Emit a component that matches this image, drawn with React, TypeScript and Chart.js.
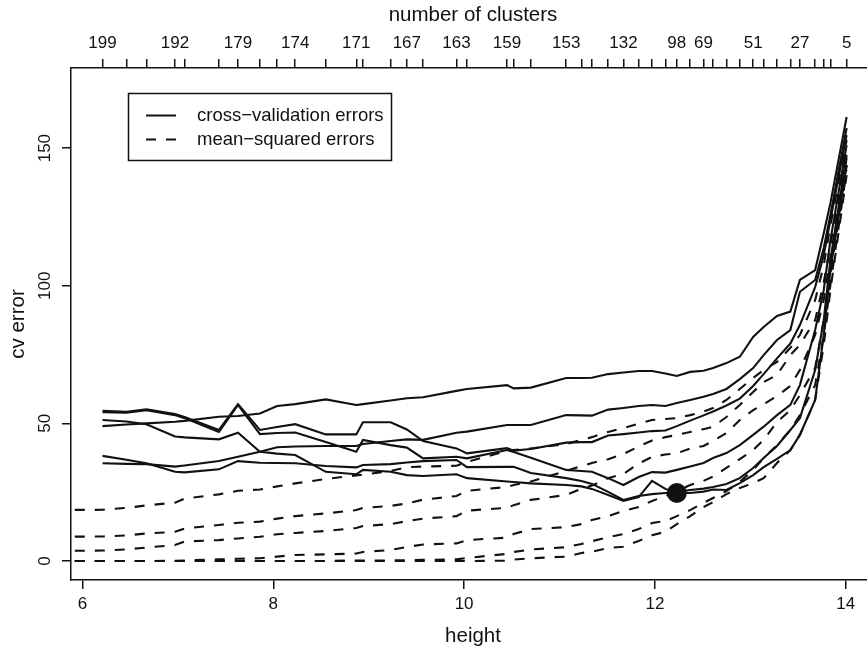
import React, { useEffect, useRef } from "react";
import { Chart, registerables } from "chart.js";

Chart.register(...registerables);

// ---- data -------------------------------------------------------------
// heights at which the tree was cut (one per tick on the top axis)
const heights = [
  6.21, 6.46, 6.67, 6.97, 7.07, 7.43, 7.63, 7.86, 8.04, 8.23,
  8.55, 8.87, 8.94, 9.23, 9.40, 9.57, 9.92, 10.03, 10.45, 10.52,
  10.70, 11.07, 11.23, 11.34, 11.51, 11.67, 11.83, 11.97, 12.11, 12.23,
  12.37, 12.51, 12.61, 12.75, 12.89, 13.03, 13.14, 13.28, 13.42, 13.52,
  13.68, 13.77, 13.84, 14.01,
];

// number-of-clusters labels shown on the top axis ("" = tick without label)
const clusterLabels = [
  "199", "", "", "192", "", "", "179", "", "", "174",
  "", "171", "", "", "167", "", "163", "", "159", "",
  "", "153", "", "", "", "132", "", "", "", "98",
  "", "69", "", "", "", "51", "", "", "", "27",
  "", "", "", "5",
];

const xTickValues = [6, 8, 10, 12, 14];
const yTickValues = [0, 50, 100, 150];

// cross-validation errors (solid lines)
const cvErrorsA = [
  49.0, 49.6, 50.0, 50.6, 50.9, 52.4, 52.7, 53.6, 56.3, 57.0,
  58.7, 56.7, 57.0, 58.3, 59.1, 59.5, 61.8, 62.5, 63.9, 62.7,
  63.0, 66.5, 66.5, 66.6, 67.9, 68.5, 69.0, 69.0, 68.1, 67.2,
  68.7, 69.1, 70.1, 71.9, 74.2, 81.4, 85.0, 89.0, 90.6, 102.1,
  105.7, 119.1, 130.0, 161.3,
];
const cvErrorsB = [
  54.6, 54.2, 55.1, 53.4, 52.3, 47.6, 57.0, 47.6, 48.7, 49.7,
  46.0, 46.0, 50.4, 50.4, 47.8, 43.6, 40.9, 39.1, 41.0, 40.1,
  40.7, 43.0, 43.2, 43.2, 45.6, 46.1, 46.7, 47.2, 47.4, 49.0,
  51.0, 52.9, 54.3, 56.5, 59.0, 63.6, 67.9, 73.6, 79.0, 85.7,
  99.5, 111.2, 123.9, 154.7,
];
const cvErrorsC = [
  54.1, 53.9, 54.8, 53.0, 51.9, 46.9, 56.7, 46.1, 46.5, 46.7,
  43.2, 39.7, 44.0, 42.1, 41.2, 37.3, 37.9, 37.3, 40.3, 39.6,
  37.5, 33.1, 32.7, 32.4, 30.1, 27.6, 30.5, 32.3, 32.1, 33.1,
  34.3, 35.6, 37.4, 39.2, 42.1, 45.8, 48.8, 53.0, 56.7, 63.9,
  83.9, 98.4, 116.6, 151.1,
];
const cvErrorsD = [
  51.2, 50.7, 49.7, 45.2, 44.9, 44.2, 46.6, 39.7, 39.0, 38.5,
  32.4, 31.5, 33.1, 32.4, 31.2, 30.9, 31.5, 30.1, 28.9, 28.7,
  28.2, 27.6, 27.1, 26.2, 24.0, 21.8, 23.2, 29.1, 26.2, 24.7,
  24.7, 25.2, 26.0, 25.8, 28.3, 31.2, 34.1, 37.1, 40.3, 45.8,
  58.5, 82.1, 105.7, 143.8,
];
const cvErrorsE = [
  38.2, 36.8, 35.5, 32.4, 32.2, 33.3, 36.3, 35.7, 35.6, 35.5,
  34.5, 34.0, 34.9, 35.2, 35.8, 36.3, 36.7, 34.1, 34.2, 34.2,
  32.0, 30.1, 29.1, 28.0, 25.1, 22.2, 23.6, 24.3, 24.7, 25.1,
  25.8, 26.3, 26.9, 28.0, 30.1, 33.8, 37.4, 41.8, 47.6, 51.9,
  69.4, 87.5, 109.3, 147.5,
];
const cvErrorsF = [
  35.5, 35.3, 35.2, 34.3, 34.7, 36.3, 37.9, 39.7, 41.3, 41.6,
  41.8, 41.8, 42.5, 43.6, 44.2, 44.0, 46.6, 47.0, 49.4, 49.4,
  49.4, 53.0, 52.9, 52.8, 55.0, 55.6, 56.3, 56.7, 56.3, 57.4,
  58.5, 59.7, 60.7, 62.5, 66.1, 70.1, 74.8, 80.3, 83.9, 97.8,
  102.1, 113.7, 125.7, 157.3,
];

// mean-squared errors (dashed lines); they begin left of the plotted range
const mseLeadHeight = 5.5;
const mseA = [
  18.5, 18.6, 19.3, 20.2, 21.2, 22.7, 24.2, 25.5, 26.0, 27.1,
  28.2, 29.8, 31.1, 31.4, 32.7, 34.1, 34.3, 34.6, 36.0, 40.0,
  40.3, 40.9, 42.5, 44.0, 45.0, 46.9, 48.3, 49.9, 51.2, 51.6,
  51.9, 53.0, 54.3, 55.6, 58.5, 62.5, 66.5, 69.4, 72.3, 77.4,
  82.1, 94.8, 107.5, 122.0, 152.9,
];
const mseB = [
  8.8, 8.9, 9.3, 10.0, 10.6, 11.8, 13.1, 13.9, 14.3, 15.4,
  16.3, 17.3, 18.5, 19.3, 20.0, 20.9, 22.3, 23.6, 25.5, 26.9,
  27.6, 28.9, 32.7, 34.5, 35.6, 37.0, 38.9, 41.6, 43.8, 45.0,
  45.8, 46.9, 47.9, 48.8, 52.3, 56.7, 61.4, 65.0, 67.6, 74.8,
  78.5, 87.5, 101.3, 114.8, 149.3,
];
const mseC = [
  3.6, 3.8, 4.2, 4.9, 5.8, 7.1, 7.6, 8.2, 8.8, 9.7,
  10.2, 10.9, 12.0, 12.7, 13.4, 14.5, 15.4, 16.3, 18.3, 19.3,
  20.3, 22.2, 24.0, 26.2, 27.4, 30.1, 31.6, 35.4, 37.8, 38.7,
  39.1, 40.9, 41.8, 43.6, 46.5, 51.2, 54.8, 57.0, 59.9, 63.6,
  69.4, 82.1, 94.8, 110.1, 146.4,
];
const mseD = [
  0, 0, 0, 0, 0.1, 0.2, 0.6, 0.8, 1.0, 1.6,
  2.2, 2.4, 2.7, 3.3, 4.0, 5.1, 6.0, 6.4, 7.6, 8.5,
  9.8, 11.6, 12.3, 13.4, 14.9, 16.3, 18.2, 19.6, 21.8, 23.6,
  25.4, 27.6, 29.1, 30.7, 33.8, 37.0, 40.3, 44.0, 50.5, 54.8,
  60.3, 70.1, 87.5, 103.9, 143.8,
];
const mseE = [
  0, 0, 0, 0, 0, 0, 0, 0, 0, 0,
  0, 0, 0.2, 0.2, 0.2, 0.3, 0.4, 0.6, 1.1, 2.6,
  3.3, 4.2, 5.0, 6.2, 7.2, 8.6, 9.8, 11.6, 13.8, 14.5,
  16.3, 18.5, 21.1, 22.9, 25.4, 28.7, 33.1, 37.4, 42.1, 47.6,
  53.0, 63.9, 82.1, 100.3, 142.0,
];
const mseF = [
  0, 0, 0, 0, 0, 0, 0, 0, 0, 0,
  0, 0, 0, 0, 0, 0, 0, 0, 0, 0.1,
  0.5, 1.0, 1.6, 2.9, 3.4, 4.7, 5.2, 7.3, 9.4, 10.6,
  13.4, 16.3, 19.6, 21.4, 24.3, 26.5, 28.3, 30.1, 35.6, 40.3,
  45.8, 58.5, 78.5, 98.4, 140.2,
];

// selected tree (minimum of the cv curve)
const bestHeight = 12.23;
const bestCvError = 24.7;

const cvSeries = [cvErrorsA, cvErrorsB, cvErrorsC, cvErrorsD, cvErrorsE, cvErrorsF];
const mseSeries = [mseA, mseB, mseC, mseD, mseE, mseF];

// ---- layout -------------------------------------------------------------
const W = 867;
const H = 652;
const X_MIN = 5.8795;
const X_MAX = 14.2235;
const Y_MIN = -6.9;
const Y_MAX = 179.1;
const FONT = "'Liberation Sans', Arial, Helvetica, sans-serif";
const INK = "#111111";

function toPoints(xs: number[], ys: number[]) {
  return xs.map((x, i) => ({ x, y: ys[i] }));
}

export default function App() {
  const canvasRef = useRef<HTMLCanvasElement>(null);

  useEffect(() => {
    document.body.style.margin = "0";
    const canvas = canvasRef.current;
    if (!canvas) return;

    const mseHeights = [mseLeadHeight, ...heights];

    const datasets: any[] = [
      {
        type: "scatter",
        data: [{ x: bestHeight, y: bestCvError }],
        pointRadius: 10,
        pointBackgroundColor: INK,
        pointBorderWidth: 0,
        showLine: false,
      },
      ...cvSeries.map((ys) => ({
        data: toPoints(heights, ys),
        borderColor: INK,
        borderWidth: 2.1,
        pointRadius: 0,
        tension: 0,
        fill: false,
      })),
      ...mseSeries.map((ys) => ({
        data: toPoints(mseHeights, ys),
        borderColor: INK,
        borderWidth: 2.1,
        borderDash: [10, 10],
        pointRadius: 0,
        tension: 0,
        fill: false,
      })),
    ];

    const overlay = {
      id: "rStyleOverlay",
      afterDraw(chart: any) {
        const ctx = chart.ctx as CanvasRenderingContext2D;
        const area = chart.chartArea;
        const ys = chart.scales.y;
        const centerX = 473;
        const centerY = (area.top + area.bottom) / 2;
        ctx.save();
        ctx.fillStyle = INK;
        ctx.strokeStyle = INK;

        // y tick labels, rotated (parallel to axis)
        ctx.font = `17px ${FONT}`;
        ctx.textAlign = "center";
        ctx.textBaseline = "middle";
        for (const v of yTickValues) {
          const py = ys.getPixelForValue(v);
          ctx.save();
          ctx.translate(45, py);
          ctx.rotate(-Math.PI / 2);
          ctx.fillText(String(v), 0, 0);
          ctx.restore();
        }

        // axis titles
        ctx.font = `20.5px ${FONT}`;
        ctx.fillText("number of clusters", centerX, 15);
        ctx.fillText("height", centerX, 636);
        ctx.save();
        ctx.translate(18, centerY);
        ctx.rotate(-Math.PI / 2);
        ctx.fillText("cv error", 0, 0);
        ctx.restore();

        // legend
        const lx = 128.5, ly = 93.5, lw = 263, lh = 67;
        ctx.lineWidth = 1.5;
        ctx.strokeRect(lx, ly, lw, lh);
        ctx.lineWidth = 2;
        ctx.beginPath();
        ctx.moveTo(146, 115.5);
        ctx.lineTo(176, 115.5);
        ctx.stroke();
        ctx.setLineDash([10, 10]);
        ctx.beginPath();
        ctx.moveTo(146, 139.5);
        ctx.lineTo(176, 139.5);
        ctx.stroke();
        ctx.setLineDash([]);
        ctx.font = `18.5px ${FONT}`;
        ctx.textAlign = "left";
        ctx.fillText("cross\u2212validation errors", 197, 115.5);
        ctx.fillText("mean\u2212squared errors", 197, 139.5);
        ctx.restore();
      },
    };

    const axisGrid = {
      drawOnChartArea: false,
      drawTicks: true,
      tickLength: 9,
      color: INK,
      lineWidth: 1.5,
    };
    const axisBorder = { display: true, color: INK, width: 1.5 };

    const chart = new Chart(canvas, {
      type: "line",
      data: { datasets },
      plugins: [overlay],
      options: {
        responsive: false,
        animation: false,
        devicePixelRatio: 1,
        layout: { padding: 0, autoPadding: false },
        plugins: {
          legend: { display: false },
          tooltip: { enabled: false },
        },
        scales: {
          x: {
            type: "linear",
            position: "bottom",
            min: X_MIN,
            max: X_MAX,
            afterBuildTicks: (s: any) => {
              s.ticks = xTickValues.map((v) => ({ value: v }));
            },
            afterFit: (s: any) => {
              s.height = 72;
              s.paddingLeft = 0;
              s.paddingRight = 0;
            },
            grid: axisGrid,
            border: axisBorder,
            ticks: {
              color: INK,
              font: { family: FONT, size: 17 },
              padding: 5,
              maxRotation: 0,
              minRotation: 0,
              autoSkip: false,
              callback: (v: any) => String(v),
            },
          },
          x2: {
            type: "linear",
            axis: "x",
            position: "top",
            min: X_MIN,
            max: X_MAX,
            afterBuildTicks: (s: any) => {
              s.ticks = heights.map((v) => ({ value: v }));
            },
            afterFit: (s: any) => {
              s.height = 68;
              s.paddingLeft = 0;
              s.paddingRight = 0;
            },
            grid: axisGrid,
            border: axisBorder,
            ticks: {
              color: INK,
              font: { family: FONT, size: 17 },
              padding: 5,
              maxRotation: 0,
              minRotation: 0,
              autoSkip: false,
              callback: (_v: any, i: number) => clusterLabels[i] ?? "",
            },
          },
          y: {
            type: "linear",
            position: "left",
            min: Y_MIN,
            max: Y_MAX,
            afterBuildTicks: (s: any) => {
              s.ticks = yTickValues.map((v) => ({ value: v }));
            },
            afterFit: (s: any) => {
              s.width = 71;
              s.paddingTop = 0;
              s.paddingBottom = 0;
            },
            grid: axisGrid,
            border: axisBorder,
            ticks: { display: false },
          },
        },
      } as any,
    });

    return () => chart.destroy();
  }, []);

  return (
    <div
      style={{
        position: "fixed",
        left: 0,
        top: 0,
        width: W,
        height: H,
        background: "#ffffff",
      }}
    >
      <canvas
        ref={canvasRef}
        width={W}
        height={H}
        style={{ width: W, height: H, display: "block" }}
      />
    </div>
  );
}
